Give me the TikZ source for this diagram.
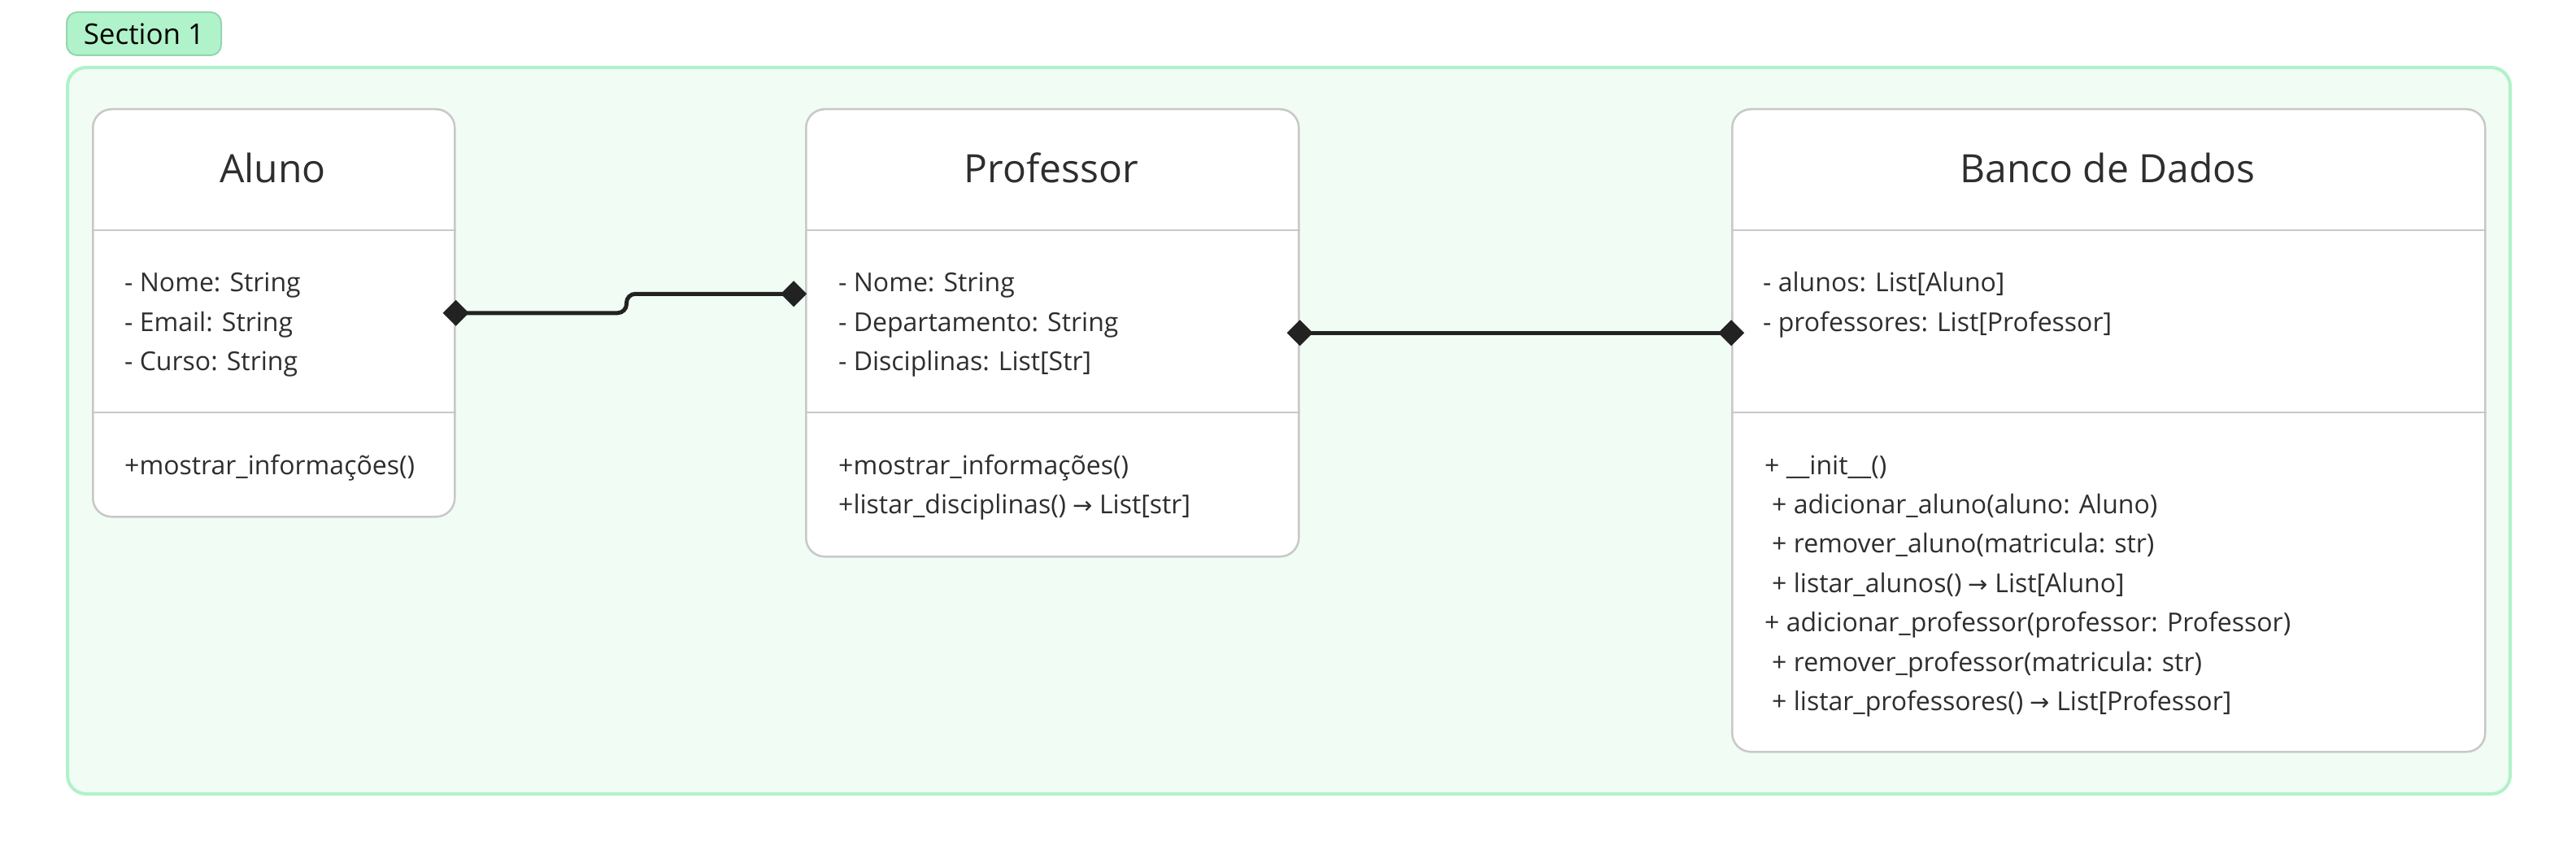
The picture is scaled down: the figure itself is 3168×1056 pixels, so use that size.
\documentclass[tikz,border=0pt]{standalone}
\usepackage{fontspec}
\setmainfont{Open Sans}
\newfontfamily\arrowfont{DejaVu Sans}
\usetikzlibrary{arrows.meta,calc}
\definecolor{secfill}{HTML}{F0FCF4}
\definecolor{secline}{HTML}{B0F2C9}
\definecolor{tagline}{HTML}{93D6AD}
\definecolor{boxline}{HTML}{C8C8C8}
\definecolor{txt}{HTML}{2E2E2E}
\definecolor{connclr}{HTML}{222222}
\newcommand{\myarrow}{{\arrowfont\fontsize{29}{34}\selectfont →}}
\tikzset{
  section/.style={draw=secline, fill=secfill, line width=4pt, rounded corners=23pt, inner sep=0pt, anchor=north west},
  tagbox/.style={draw=tagline, fill=secline, line width=2pt, rounded corners=13pt, inner sep=0pt, anchor=north west, font=\fontsize{35}{40}\selectfont, text=black},
  classbox/.style={draw=boxline, fill=white, line width=2.5pt, rounded corners=23pt, inner sep=0pt, anchor=north west},
  divider/.style={draw=boxline, line width=2.5pt},
  title/.style={anchor=base, inner sep=0pt, text=txt, font=\fontsize{48}{56}\selectfont},
  member/.style={anchor=base west, inner sep=0pt, text=txt, font=\fontsize{32}{38}\selectfont},
  connector/.style={draw=connclr, line width=5pt, rounded corners=11pt,
    {Diamond[length=32pt,width=32pt]}-{Diamond[length=32pt,width=32pt]}}
}
\begin{document}
\begin{tikzpicture}[x=1pt,y=-1pt]
\useasboundingbox (0,0) rectangle (3168,1056);
% section
\node[section, minimum width=3004pt, minimum height=893pt] (sec) at (81,81) {};
\node[tagbox, minimum width=190pt, minimum height=53pt] (tag) at (81,14) {Section 1};
% class boxes
\node[classbox, minimum width=445pt, minimum height=501pt] (aluno) at (113,133) {};
\node[classbox, minimum width=606pt, minimum height=550pt] (professor) at (990,133) {};
\node[classbox, minimum width=926pt, minimum height=790pt] (banco) at (2129,133) {};
% dividers
\foreach \b in {aluno,professor,banco}{
  \draw[divider] (\b.west |- 0,283) -- (\b.east |- 0,283);
  \draw[divider] (\b.west |- 0,507) -- (\b.east |- 0,507);
}
% titles
\node[title] (aluno-t) at (335.5,224.5) {Aluno};
\node[title] (prof-t) at (1293,224.5) {Professor};
\node[title] (banco-t) at (2592,224.5) {Banco de Dados};
% Aluno
\foreach \t [count=\i] in {{- Nome: String},{- Email: String},{- Curso: String}}
  \node[member] (al-a\i) at (153,{359+48.4*(\i-1)}) {\t};
\node[member] (al-m1) at (153,583) {+mostrar\_informações()};
% Professor
\foreach \t [count=\i] in {{- Nome: String},{- Departamento: String},{- Disciplinas: List[Str]}}
  \node[member] (pr-a\i) at (1031,{359+48.4*(\i-1)}) {\t};
\node[member] (pr-m1) at (1031,583) {+mostrar\_informações()};
\node[member] (pr-m2) at (1031,631.4) {+listar\_disciplinas() \myarrow{} List[str]};
% Banco
\node[member] (bd-a1) at (2168,359) {- alunos: List[Aluno]};
\node[member] (bd-a2) at (2168,407.4) {- professores: List[Professor]};
\node[member] (bd-m1) at (2170,583) {+ \_\_init\_\_()};
\node[member] (bd-m2) at (2179,631.4) {+ adicionar\_aluno(aluno: Aluno)};
\node[member] (bd-m3) at (2179,679.8) {+ remover\_aluno(matricula: str)};
\node[member] (bd-m4) at (2179,728.2) {+ listar\_alunos() \myarrow{} List[Aluno]};
\node[member] (bd-m5) at (2170,776.6) {+ adicionar\_professor(professor: Professor)};
\node[member] (bd-m6) at (2179,825) {+ remover\_professor(matricula: str)};
\node[member] (bd-m7) at (2179,873.4) {+ listar\_professores() \myarrow{} List[Professor]};
% connectors
\draw[connector] ($(aluno.east)+(-16,0)$) -- ($(aluno.east)+(210,0)$) |- ($(professor.west)+(2,-48)$);
\draw[connector] ($(professor.east)+(-16,0)$) -- ($(banco.west |- professor.east)+(16,0)$);
\end{tikzpicture}
\end{document}
